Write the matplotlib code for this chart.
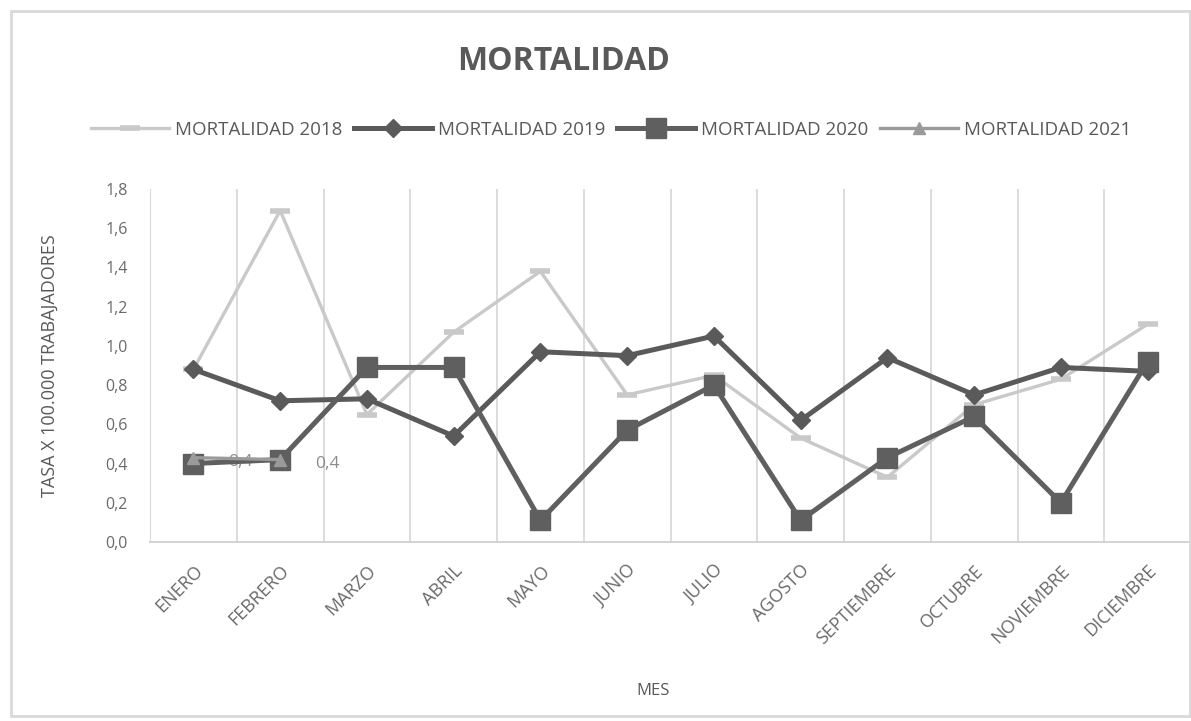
import matplotlib.pyplot as plt
import numpy as np
from matplotlib.patches import Rectangle
from matplotlib.ticker import FuncFormatter

# --- data ---
meses = ["ENERO", "FEBRERO", "MARZO", "ABRIL", "MAYO", "JUNIO", "JULIO",
         "AGOSTO", "SEPTIEMBRE", "OCTUBRE", "NOVIEMBRE", "DICIEMBRE"]
mort_2018 = [0.88, 1.69, 0.65, 1.07, 1.38, 0.75, 0.85, 0.53, 0.33, 0.70, 0.83, 1.11]
mort_2019 = [0.88, 0.72, 0.73, 0.54, 0.97, 0.95, 1.05, 0.62, 0.94, 0.75, 0.89, 0.87]
mort_2020 = [0.40, 0.42, 0.89, 0.89, 0.11, 0.57, 0.80, 0.11, 0.43, 0.64, 0.20, 0.92]
mort_2021 = [0.43, 0.42]
etiquetas_2021 = ["0,4", "0,4"]

plt.rcParams["font.family"] = ["Open Sans", "DejaVu Sans"]
txt = "#595959"

fig = plt.figure(figsize=(11.91, 7.21), dpi=100)
ax = fig.add_axes([0.126, 0.2483, 0.874, 0.4896])

x = np.arange(len(meses))

# --- lines ---
l18, = ax.plot(x, mort_2018, color="#c9c9c9", lw=2.4, marker="_", ms=14, mew=4,
               label="MORTALIDAD 2018", zorder=2)
l19, = ax.plot(x, mort_2019, color="#5a5a5a", lw=3.6, marker="D", ms=9,
               label="MORTALIDAD 2019", zorder=3)
l20, = ax.plot(x, mort_2020, color="#5f5f5f", lw=3.6, marker="s", ms=14,
               label="MORTALIDAD 2020", zorder=4)
x21 = x[:len(mort_2021)]
l21, = ax.plot(x21, mort_2021, color="#9a9a9a", lw=2.4, marker="^", ms=8,
               label="MORTALIDAD 2021", zorder=5)

for xi, yi, lab in zip(x21, mort_2021, etiquetas_2021):
    ax.text(xi + 0.4, yi - 0.02, lab, color="#8c8c8c", fontsize=12.5,
            va="center", ha="left", zorder=1)

# --- axes ---
ax.set_xlim(-0.5, len(meses) - 0.5)
ax.set_ylim(0, 1.8)
ax.set_yticks(np.arange(0, 1.81, 0.2))
ax.yaxis.set_major_formatter(FuncFormatter(lambda v, p: f"{v:.1f}".replace(".", ",")))
ax.set_xticks(x)
ax.set_xticklabels(meses, rotation=45, ha="right", rotation_mode="anchor",
                   fontsize=13, color="#6a6a6a")
ax.tick_params(axis="y", length=0, labelsize=11.5, labelcolor="#6a6a6a", pad=16)
ax.tick_params(axis="x", length=0, pad=14)

for b in np.arange(0.5, len(meses) - 0.5, 1):
    ax.axvline(b, color="#d9d9d9", lw=1.3, zorder=0)

for s in ["top", "right"]:
    ax.spines[s].set_visible(False)
ax.spines["left"].set_color("#d9d9d9")
ax.spines["bottom"].set_color("#d0d0d0")
ax.spines["bottom"].set_linewidth(1.3)

ax.set_ylabel("TASA X 100.000 TRABAJADORES", fontsize=13, color=txt)
ax.yaxis.set_label_coords(-0.088, 0.5)
ax.set_xlabel("MES", fontsize=12, color=txt)
ax.xaxis.set_label_coords(0.483, -0.40)

# --- title + legend ---
fig.text(0.473, 0.915, "MORTALIDAD", ha="center", va="center",
         fontsize=23, fontweight="bold", color=txt)
fig.legend(handles=[l18, l19, l20, l21], loc="center", ncol=4,
           bbox_to_anchor=(0.513, 0.82), frameon=False, fontsize=13.5,
           labelcolor=txt, handlelength=4.2, columnspacing=0.6, handletextpad=0.3)

# figure frame
fig.patches.append(Rectangle((0.009, 0.007), 0.99, 0.978, transform=fig.transFigure,
                             fill=False, edgecolor="#d9d9d9", lw=2))

fig.savefig("out.png", dpi=100)
